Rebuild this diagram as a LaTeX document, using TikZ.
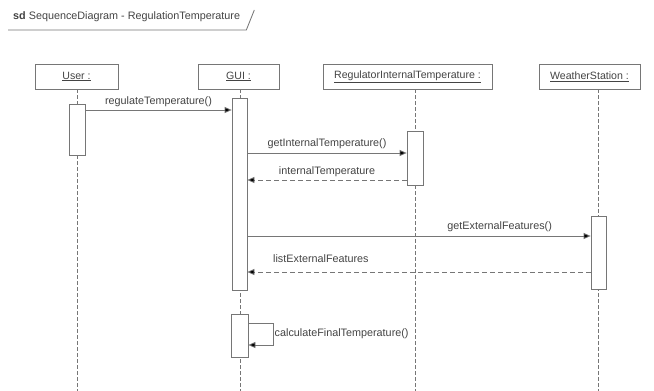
\documentclass[tikz,border=0pt]{standalone}
\usepackage{fontspec}
\setmainfont{Liberation Sans}
\usetikzlibrary{arrows.meta}
\definecolor{linegray}{HTML}{767676}
\definecolor{textgray}{HTML}{444444}
\tikzset{
  objbox/.style={draw=linegray, line width=0.8pt, fill=white, minimum height=25pt, inner sep=0pt, text=textgray, font=\fontsize{10.6}{12}\selectfont},
  actbox/.style={draw=linegray, line width=0.8pt, fill=white, inner sep=0pt},
  lifeline/.style={draw=linegray, line width=0.8pt, dash pattern=on 4pt off 2pt},
  callmsg/.style={draw=linegray, line width=0.8pt, -{Triangle[length=7pt,width=6pt,fill=black]}},
  retmsg/.style={draw=linegray, line width=0.8pt, dash pattern=on 5pt off 3pt, -{Triangle[length=7pt,width=6pt,fill=black]}},
  msglabel/.style={text=textgray, font=\fontsize{10.8}{12}\selectfont, inner sep=0pt},
}
\begin{document}
\begin{tikzpicture}[x=1pt,y=-1pt]
\useasboundingbox (0,0) rectangle (654,391);
\fill[white] (0,0) rectangle (654,391);

% frame tab
\node[msglabel, anchor=west] (title) at (13,17) {\textbf{sd} SequenceDiagram - RegulationTemperature};
\coordinate (tabl) at (8,30);
\coordinate (tabc) at ([xshift=6pt]title.east |- 0,30);
\coordinate (tabt) at ([xshift=14pt]title.east |- 0,10);
\draw[linegray, line width=0.8pt] (tabl) -- (tabc) -- (tabt);

% objects
\node[objbox, minimum width=83pt] (user) at (76.5,76.5) {\underline{User :}};
\node[objbox, minimum width=81pt] (gui) at (238.5,76.5) {\underline{GUI :}};
\node[objbox, minimum width=169pt] (reg) at (407.5,76.5) {\underline{RegulatorInternalTemperature :}};
\node[objbox, minimum width=101pt] (ws) at (589.5,76.5) {\underline{WeatherStation :}};

% lifelines
\coordinate (usertop) at (77,89);
\coordinate (guitop) at (240,89);
\coordinate (regtop) at (415,89);
\coordinate (wstop) at (598,89);
\coordinate (userend) at (77,391);
\coordinate (guiend) at (240,391);
\coordinate (regend) at (415,391);
\coordinate (wsend) at (598,391);
\draw[lifeline] (usertop) -- (userend);
\draw[lifeline] (guitop) -- (guiend);
\draw[lifeline] (regtop) -- (regend);
\draw[lifeline] (wstop) -- (wsend);

% activations
\node[actbox, minimum width=16pt, minimum height=51pt] (useract) at (77,129.5) {};
\node[actbox, minimum width=15pt, minimum height=192pt] (guiact) at (239.5,194) {};
\node[actbox, minimum width=16pt, minimum height=54pt] (regact) at (415,158) {};
\node[actbox, minimum width=15pt, minimum height=73pt] (wsact) at (598.5,252.5) {};
\node[actbox, minimum width=17pt, minimum height=43pt] (selfact) at (239.5,335.5) {};

% messages
\draw[callmsg] (useract.east |- 0,110) -- (guiact.west |- 0,110)
  node[msglabel, midway, yshift=8pt] (m1) {regulateTemperature()};
\draw[callmsg] (guiact.east |- 0,153) -- (regact.west |- 0,153)
  node[msglabel, midway, yshift=9pt] (m2) {getInternalTemperature()};
\draw[retmsg] (regact.west |- 0,180) -- (guiact.east |- 0,180)
  node[msglabel, midway, yshift=8pt] (m3) {internalTemperature};
\draw[callmsg] (guiact.east |- 0,236) -- (wsact.west |- 0,236)
  node[msglabel, pos=0.735, yshift=9pt] (m4) {getExternalFeatures()};
\draw[retmsg] (wsact.west |- 0,272) -- (guiact.east |- 0,272);
\node[msglabel, anchor=west] (m5) at (273,259) {listExternalFeatures};

% self call
\coordinate (loopa) at (273,323);
\coordinate (loopb) at (273,345);
\draw[callmsg] (selfact.east |- 0,323) -- (loopa) -- (loopb) -- (selfact.east |- 0,345);
\node[msglabel, anchor=west] (m6) at (274.5,334) {calculateFinalTemperature()};
\end{tikzpicture}
\end{document}
